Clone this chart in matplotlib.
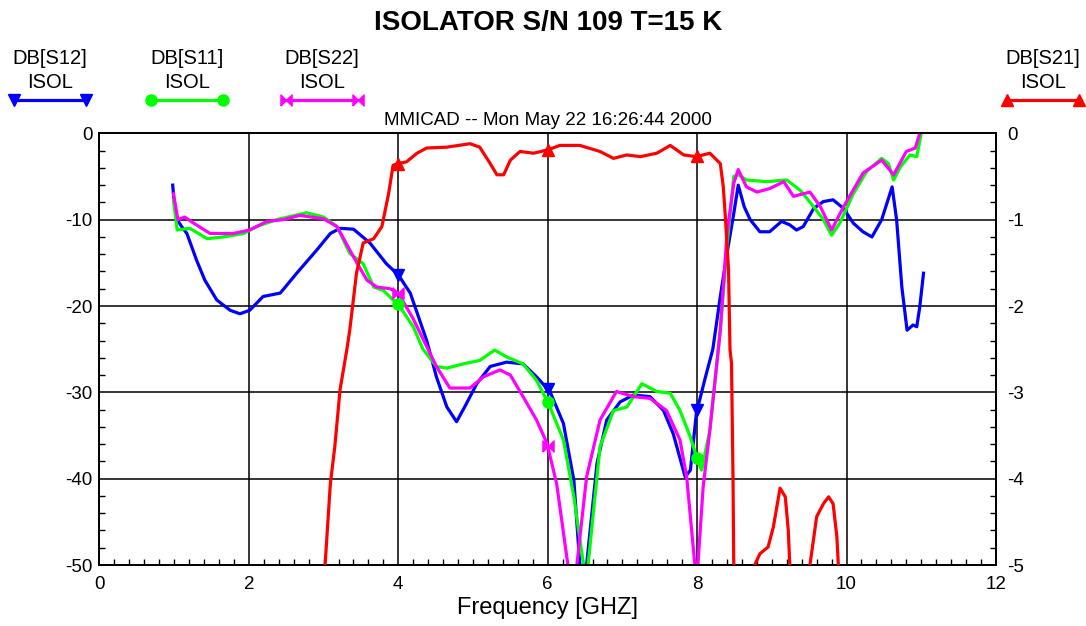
import numpy as np
import matplotlib
matplotlib.use("Agg")
import matplotlib.pyplot as plt
from matplotlib.lines import Line2D
from matplotlib.path import Path
from matplotlib.ticker import MultipleLocator

plt.rcParams['font.family'] = ['Liberation Sans', 'DejaVu Sans']
plt.rcParams['axes.unicode_minus'] = False

# DB[S12] (left axis, dB)
s12_f = [0.98, 1.00, 1.04, 1.10, 1.17, 1.30, 1.41, 1.57, 1.75, 1.88, 2.01, 2.19, 2.42, 2.64,
         2.91, 3.09, 3.22, 3.40, 3.62, 3.84, 4.00, 4.16, 4.38, 4.51, 4.65, 4.78, 4.90, 5.05,
         5.23, 5.45, 5.67, 5.85, 6.03, 6.21, 6.35, 6.43, 6.47, 6.52, 6.66, 6.79, 6.97, 7.15,
         7.37, 7.55, 7.68, 7.84, 7.91, 7.99, 8.10, 8.21, 8.31, 8.40, 8.49, 8.55, 8.63, 8.71,
         8.84, 8.97, 9.13, 9.24, 9.33, 9.42, 9.56, 9.69, 9.82, 9.96, 10.09, 10.22, 10.34,
         10.47, 10.61, 10.67, 10.74, 10.81, 10.89, 10.94, 10.98, 11.03]
s12_db = [-6.0, -8.0, -10.0, -10.8, -11.6, -14.7, -17.0, -19.3, -20.5, -20.9, -20.5, -18.9,
          -18.5, -16.2, -13.5, -11.6, -11.0, -11.1, -12.7, -15.1, -16.4, -18.5, -24.0, -28.2,
          -31.7, -33.4, -31.5, -29.0, -27.0, -26.5, -26.7, -28.2, -29.9, -33.6, -40.2, -50.0,
          -58.0, -50.0, -38.2, -33.2, -31.1, -30.3, -30.5, -32.1, -34.8, -39.8, -39.0, -32.4,
          -28.6, -25.0, -18.9, -13.9, -9.3, -6.0, -8.5, -10.0, -11.4, -11.4, -10.2, -10.6,
          -11.2, -10.8, -8.7, -7.9, -7.7, -8.7, -10.4, -11.4, -12.0, -10.0, -6.2, -10.0, -17.8,
          -22.8, -22.2, -22.4, -20.1, -16.2]

# DB[S11]
s11_f = [0.99, 1.04, 1.21, 1.44, 1.66, 1.93, 2.10, 2.37, 2.77, 3.00, 3.18, 3.35, 3.53, 3.67,
         3.80, 3.93, 4.00, 4.20, 4.33, 4.51, 4.65, 4.87, 5.09, 5.29, 5.45, 5.67, 5.85, 6.01,
         6.21, 6.35, 6.48, 6.51, 6.54, 6.70, 6.88, 7.06, 7.26, 7.46, 7.64, 7.77, 7.91, 8.02,
         8.06, 8.17, 8.31, 8.40, 8.49, 8.55, 8.66, 8.93, 9.20, 9.38, 9.56, 9.69, 9.80, 9.91,
         10.09, 10.27, 10.47, 10.56, 10.63, 10.72, 10.85, 10.94, 11.00]
s11_db = [-7.7, -11.2, -11.0, -12.2, -12.0, -11.6, -10.8, -10.0, -9.2, -9.7, -10.8, -13.9,
          -15.1, -17.8, -18.2, -19.3, -19.8, -22.4, -25.0, -27.0, -27.2, -26.7, -26.3, -25.1,
          -25.9, -26.7, -28.6, -31.3, -35.5, -42.1, -50.0, -56.0, -50.0, -36.3, -32.1, -31.7,
          -29.0, -29.9, -30.1, -32.1, -35.2, -38.2, -39.0, -34.4, -22.8, -13.0, -5.0, -4.8,
          -5.4, -5.6, -5.4, -6.6, -8.5, -10.0, -11.8, -10.4, -7.0, -4.4, -2.9, -3.5, -5.4,
          -3.9, -2.5, -2.7, 0.0]

# DB[S22]
s22_f = [0.99, 1.05, 1.14, 1.26, 1.48, 1.79, 2.01, 2.24, 2.46, 2.68, 3.00, 3.18, 3.40, 3.58,
         3.71, 3.89, 4.00, 4.20, 4.38, 4.51, 4.69, 4.96, 5.14, 5.36, 5.50, 5.67, 5.85, 5.99,
         6.12, 6.27, 6.33, 6.39, 6.52, 6.70, 6.92, 7.15, 7.37, 7.59, 7.77, 7.86, 7.97, 7.99,
         8.01, 8.08, 8.17, 8.31, 8.40, 8.49, 8.55, 8.66, 8.80, 8.97, 9.16, 9.29, 9.51, 9.65,
         9.80, 9.96, 10.22, 10.47, 10.63, 10.80, 10.92, 10.98]
s22_db = [-7.0, -10.0, -9.7, -10.4, -11.6, -11.6, -11.2, -10.2, -10.0, -9.5, -9.9, -10.8,
          -14.3, -17.0, -17.8, -18.0, -18.5, -21.5, -24.7, -27.0, -29.5, -29.5, -28.2, -27.4,
          -28.0, -30.5, -33.2, -35.9, -40.6, -50.0, -56.0, -50.0, -39.8, -33.2, -29.9, -30.5,
          -30.7, -32.1, -35.5, -39.8, -50.0, -55.0, -50.0, -41.0, -34.4, -22.8, -11.6, -5.8,
          -4.2, -6.2, -6.8, -6.4, -5.6, -7.3, -6.8, -8.5, -11.2, -8.5, -4.6, -3.1, -4.8, -2.1,
          -1.7, 0.0]

# DB[S21] (right axis, dB)
s21_f = [3.00, 3.02, 3.09, 3.15, 3.22, 3.31, 3.35, 3.44, 3.53, 3.67, 3.78, 3.87, 3.93, 4.00,
         4.11, 4.25, 4.38, 4.65, 4.96, 5.09, 5.23, 5.32, 5.41, 5.50, 5.63, 5.81, 6.01, 6.16,
         6.43, 6.70, 6.88, 7.06, 7.24, 7.46, 7.64, 7.82, 7.99, 8.17, 8.31, 8.35, 8.38, 8.42,
         8.44, 8.46, 8.48, 8.49, 8.60, 8.77, 8.84, 8.95, 9.02, 9.11, 9.18, 9.22, 9.24, 9.38,
         9.51, 9.60, 9.69, 9.76, 9.82, 9.87, 9.89, 9.95]
s21_db = [-5.6, -5.0, -4.06, -3.63, -2.97, -2.51, -2.28, -1.62, -1.27, -1.22, -1.08, -0.70,
          -0.37, -0.35, -0.33, -0.23, -0.17, -0.16, -0.12, -0.16, -0.35, -0.48, -0.48, -0.31,
          -0.21, -0.23, -0.19, -0.14, -0.14, -0.21, -0.29, -0.25, -0.27, -0.23, -0.14, -0.25,
          -0.27, -0.23, -0.35, -0.62, -1.0, -1.58, -2.51, -2.66, -3.98, -5.0, -5.6, -5.0,
          -4.87, -4.79, -4.56, -4.11, -4.21, -4.6, -5.0, -5.6, -5.0, -4.44, -4.29, -4.21,
          -4.29, -4.67, -5.0, -5.6]

marker_f = [4, 6, 8]

bowtie = Path([(-1, -1), (-1, 1), (0, 0), (1, 1), (1, -1), (0, 0), (-1, -1)])

BLUE, GREEN, MAG, RED = '#0000ff', '#00ff00', '#ff00ff', '#ff0000'

fig = plt.figure(figsize=(10.86, 6.26), dpi=100)
ax = fig.add_axes([0.0916, 0.0974, 0.8255, 0.6896])
ax2 = ax.twinx()

lw = 2.3
ax.plot(s12_f, s12_db, color=BLUE, lw=lw, zorder=3)
ax.plot(s11_f, s11_db, color=GREEN, lw=lw, zorder=3)
ax.plot(s22_f, s22_db, color=MAG, lw=lw, zorder=3)
ax.plot(marker_f, np.interp(marker_f, s12_f, s12_db), 'v', color=BLUE, ms=8, zorder=4)
ax.plot(marker_f, np.interp(marker_f, s11_f, s11_db), 'o', color=GREEN, ms=8, zorder=4)
ax.plot(marker_f, np.interp(marker_f, s22_f, s22_db), ls='none', marker=bowtie,
        color=MAG, ms=8, zorder=4)
ax2.plot(s21_f, s21_db, color=RED, lw=lw, zorder=3)
ax2.plot(marker_f, np.interp(marker_f, s21_f, s21_db), '^', color=RED, ms=8, zorder=4)

ax.set_xlim(0, 12)
ax.set_ylim(-50, 0)
ax2.set_ylim(-5, 0)
ax.xaxis.set_major_locator(MultipleLocator(2))
ax.xaxis.set_minor_locator(MultipleLocator(0.2))
ax.yaxis.set_major_locator(MultipleLocator(10))
ax.yaxis.set_minor_locator(MultipleLocator(2))
ax2.yaxis.set_major_locator(MultipleLocator(1))
ax2.yaxis.set_minor_locator(MultipleLocator(0.2))
ax.grid(True, which='major', color='black', lw=1.1)
ax.set_axisbelow(True)

ax.tick_params(which='both', direction='in', labelsize=13.5, top=False, right=False)
ax.tick_params(which='major', length=0)
ax.tick_params(which='minor', length=4, width=1)
ax.tick_params(axis='x', pad=8)
ax.tick_params(axis='y', pad=5)
ax2.tick_params(which='both', direction='in', labelsize=13.5, pad=8)
ax2.tick_params(which='major', length=0)
ax2.tick_params(which='minor', length=4, width=1)
for a in (ax, ax2):
    for s in a.spines.values():
        s.set_linewidth(1.3)

ax.set_xlabel('Frequency [GHZ]', fontsize=17, labelpad=3)

fig.text(0.505, 0.963, 'ISOLATOR S/N 109 T=15 K', ha='center', va='center',
         fontsize=20, fontweight='bold')
fig.text(0.505, 0.808, 'MMICAD -- Mon May 22 16:26:44 2000', ha='center', va='center',
         fontsize=13.5)

legend_items = [('DB[S12]', BLUE, 'v', 50), ('DB[S11]', GREEN, 'o', 187),
                ('DB[S22]', MAG, bowtie, 322), ('DB[S21]', RED, '^', 1043)]
for name, col, mk, cx in legend_items:
    xf = cx / 1086
    fig.text(xf, 1 - 58 / 626, name, ha='center', va='center', fontsize=14.5)
    fig.text(xf, 1 - 82 / 626, 'ISOL', ha='center', va='center', fontsize=14.5)
    fig.add_artist(Line2D([(cx - 36) / 1086, (cx + 36) / 1086], [1 - 100 / 626] * 2,
                          transform=fig.transFigure, color=col, lw=2.3, marker=mk, ms=8))

fig.savefig('out.png', dpi=100)
